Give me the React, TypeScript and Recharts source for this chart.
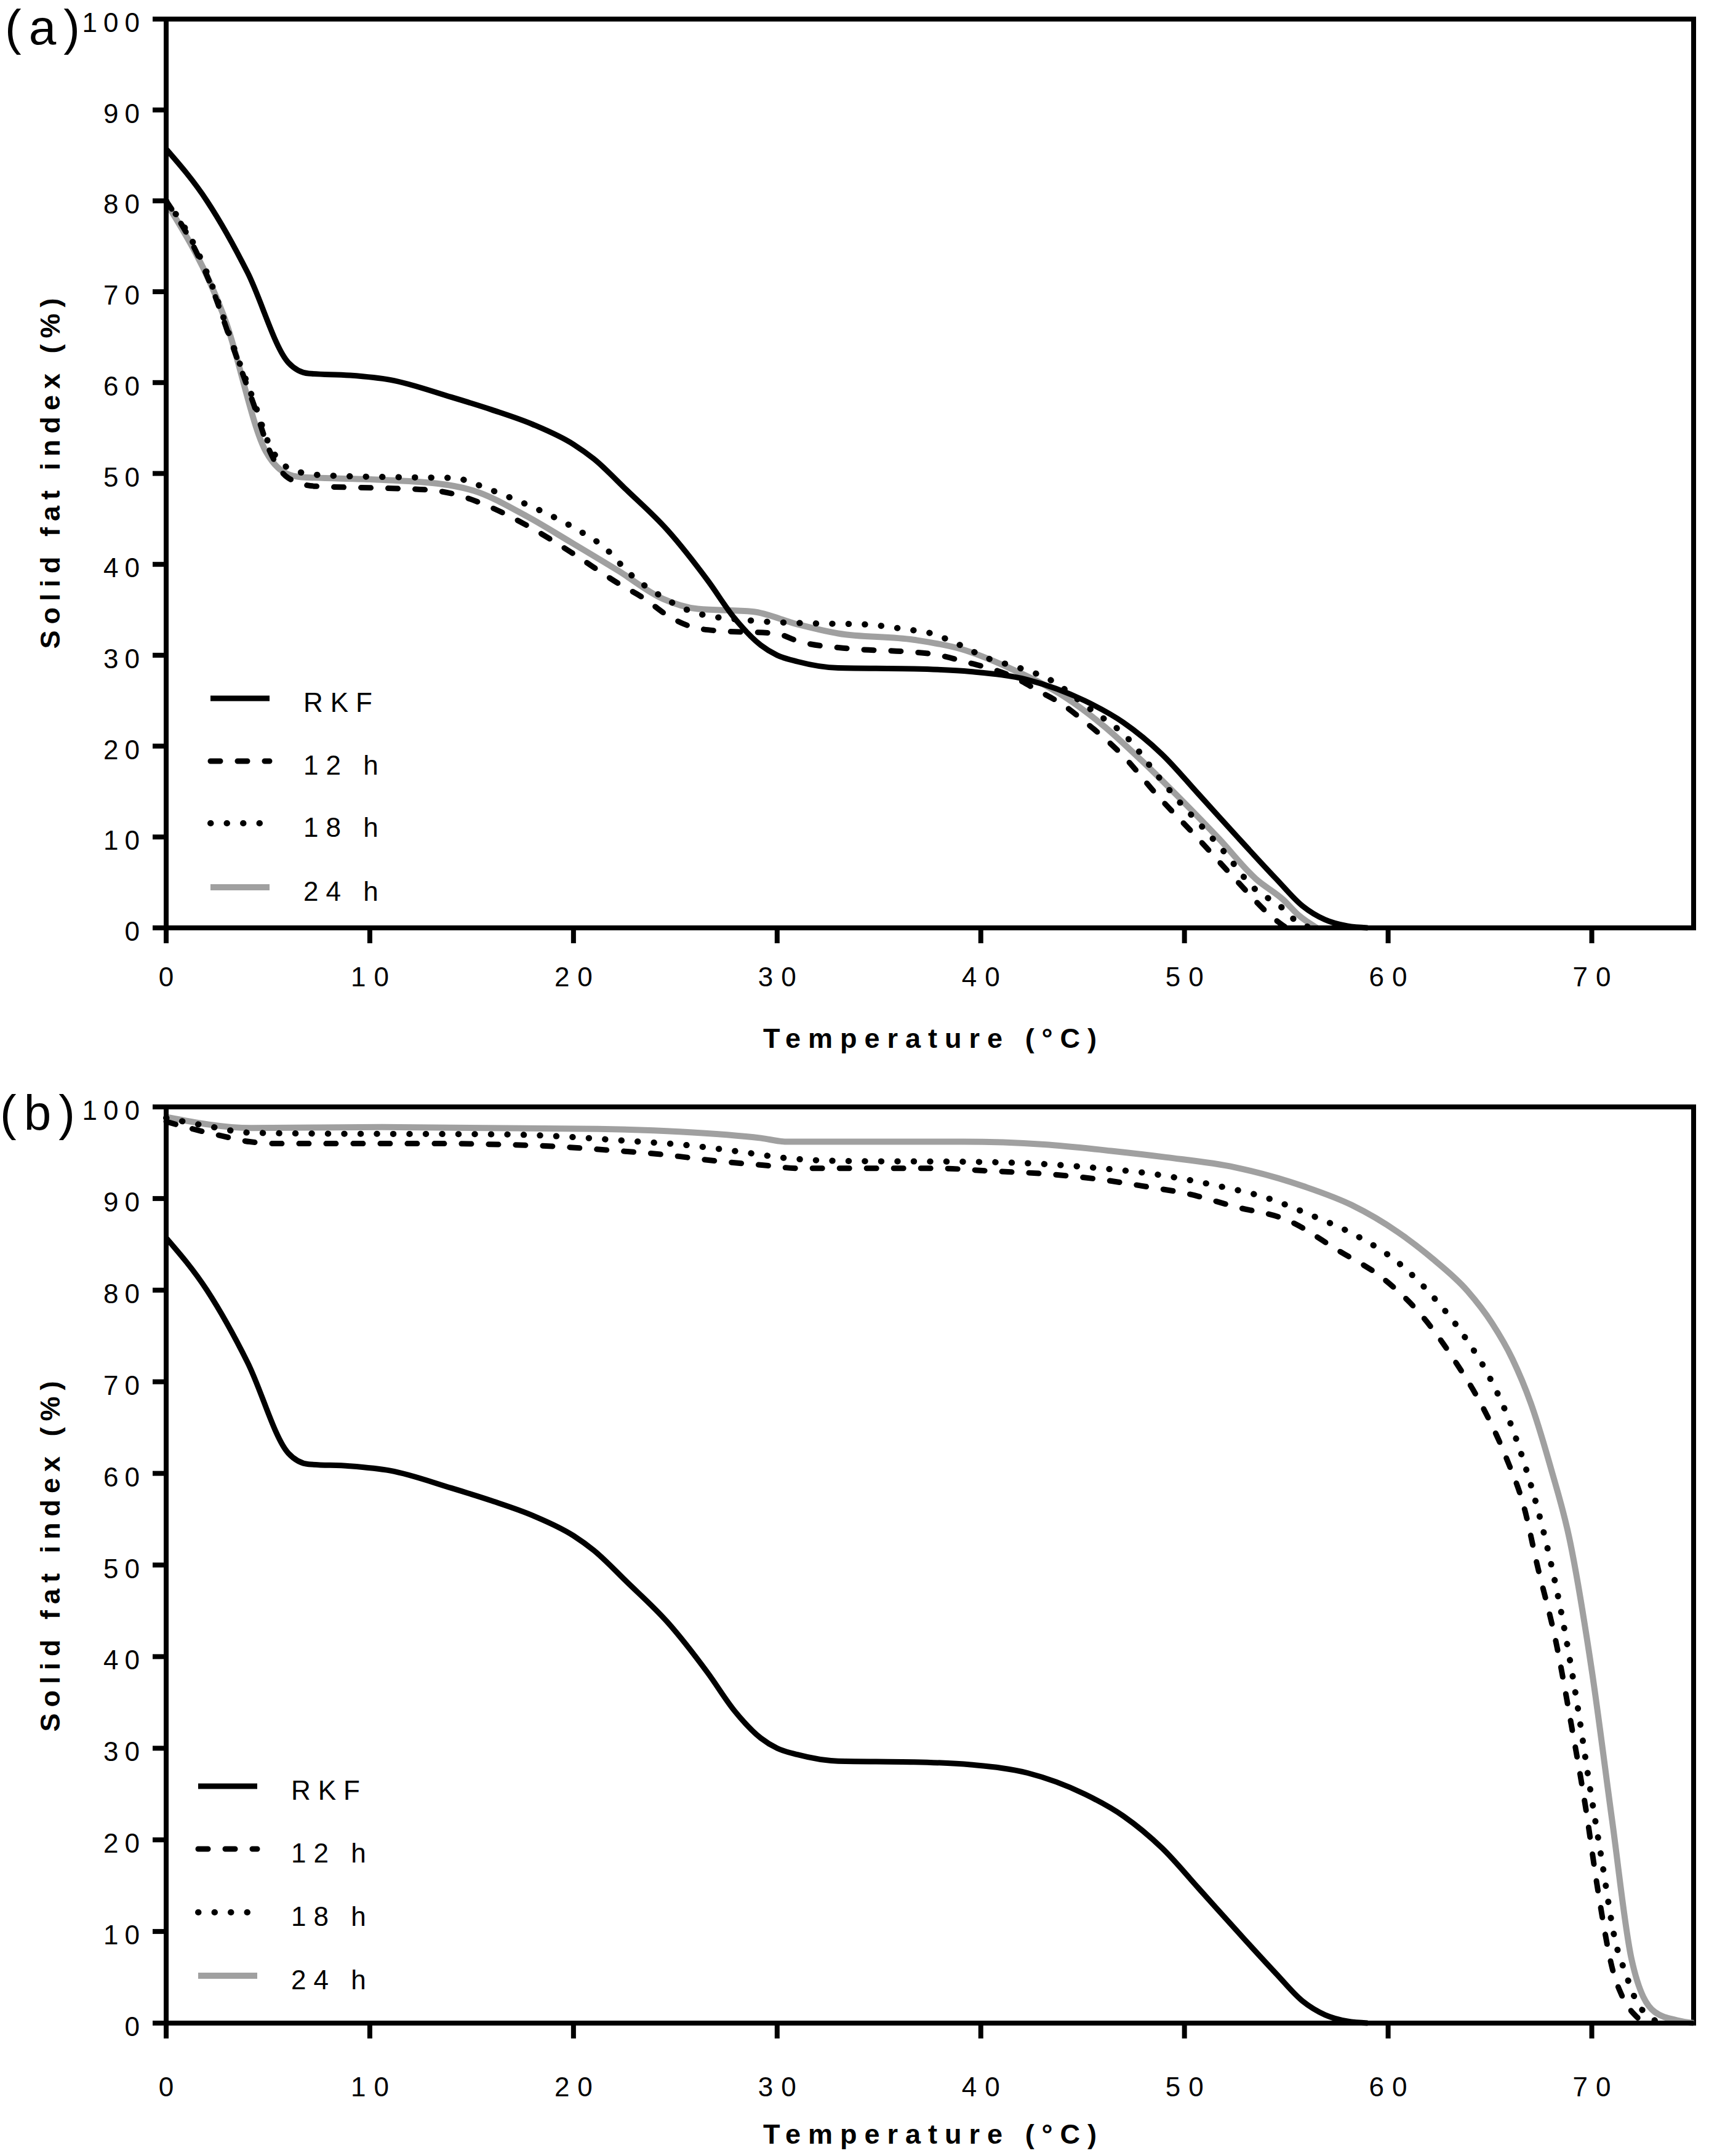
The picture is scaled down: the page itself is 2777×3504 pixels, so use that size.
import { LineChart, Line, XAxis, YAxis, ReferenceLine } from "recharts";

type Point = [number, number];

const X_TICKS = [0, 10, 20, 30, 40, 50, 60, 70];
const Y_TICKS = [0, 10, 20, 30, 40, 50, 60, 70, 80, 90, 100];
const SERIES = ["RKF", "12 h", "18 h", "24 h"];

// temperature (°C), solid fat index (%)
const RKF: Point[] = [
  [0, 85.7], [2, 80], [4, 72.1], [6, 62.2], [7, 61], [9, 60.8], [11, 60.3],
  [14, 58.4], [16, 57], [18, 55.4], [20, 53.2], [21, 51.6], [22.6, 48.2],
  [24.6, 43.8], [26.6, 38.2], [27.9, 34.1], [29.2, 31.1], [30, 30], [31, 29.3],
  [33, 28.6], [36.7, 28.5], [39.5, 28.2], [42.3, 27.3], [45.1, 25], [47, 22.6],
  [48.9, 19.1], [50.7, 14.7], [52.6, 10], [54.5, 5.4], [55.8, 2.4], [56.9, 0.9],
  [58, 0.2], [59, 0],
];

const A_12H: Point[] = [
  [0, 80], [1.3, 75.2], [2.2, 70.7], [3.3, 63.8], [4.3, 57.6], [5.1, 52.4],
  [6, 49.5], [7.3, 48.6], [10.4, 48.4], [12.8, 48.2], [14.2, 47.7], [15.5, 46.7],
  [17.7, 44.3], [19.9, 41.3], [22.2, 37.9], [23.5, 36.2], [24.6, 34.4],
  [25.7, 33.2], [27, 32.7], [29.9, 32.4], [31.1, 31.5], [33.7, 30.7],
  [36.3, 30.4], [37.7, 30.1], [39.2, 29.3], [41.6, 27.6], [42.9, 26], [44, 24.6],
  [45.1, 22.7], [47, 18.9], [48.7, 14.5], [50.6, 10], [52.6, 5.1], [54.3, 1.2],
  [55, 0],
];

const A_18H: Point[] = [
  [0, 80], [1.3, 75.5], [2.2, 71], [3.3, 64], [4.3, 58], [5.1, 53], [6.3, 50.3],
  [7.75, 49.8], [11.1, 49.6], [14.2, 49.5], [15.1, 48.9], [16.5, 47.7],
  [18.1, 46.2], [20.2, 43.8], [21.5, 41.9], [22.8, 38.9], [24.3, 36.5],
  [26.1, 34.6], [28.8, 33.8], [31.8, 33.5], [34.2, 33.4], [36.5, 32.8],
  [37.4, 32.5], [38.9, 31.2], [40.3, 29.7], [41.9, 28.6], [43.4, 27.3],
  [45.3, 24.2], [47.2, 20.9], [48.7, 16.7], [49.7, 14], [50.8, 11.3],
  [51.9, 8.5], [53.4, 4.4], [54.8, 2.2], [55.4, 0.9], [56.2, 0],
];

const A_24H: Point[] = [
  [0, 79.8], [2.9, 66.9], [4.9, 52.4], [5.9, 50], [6.65, 49.6], [10, 49.35],
  [13.3, 48.9], [15.1, 48.1], [17.7, 45.3], [19.9, 42.4], [22.2, 39.3],
  [24.4, 36.2], [26.1, 35.1], [28.8, 34.8], [31, 33.4], [33, 32.4], [36.7, 31.7],
  [39, 30.7], [41.4, 28.6], [44.2, 25.3], [46.1, 22.1], [47.9, 18.4],
  [49.8, 14.2], [51.7, 9.8], [53.5, 5.4], [54.85, 3.1], [55.6, 1.4], [56.5, 0],
];

const B_12H: Point[] = [
  [0, 98.4], [1.3, 97.6], [2.8, 96.8], [4.1, 96.2], [5.5, 96], [13.3, 96],
  [16.3, 95.9], [19, 95.7], [21.6, 95.3], [24.4, 94.8], [27, 94.1], [29.5, 93.6],
  [31, 93.3], [37.8, 93.3], [40.5, 93], [43.1, 92.7], [45.8, 92.1], [48.4, 91.2],
  [50, 90.6], [52.5, 89.1], [55.1, 87.6], [57.5, 84.4], [59.8, 81.2],
  [61.7, 77.1], [63.3, 72.2], [64.7, 67], [65.8, 61.7], [66.7, 56.1],
  [67.3, 50.2], [68.26, 41.4], [69, 32.5], [69.7, 23.5], [70.3, 14.5],
  [71.05, 5.6], [71.5, 2.9], [72.2, 0.7], [72.6, 0],
];

const B_18H: Point[] = [
  [0, 98.8], [2.3, 97.8], [4, 97.2], [6.6, 97.1], [16.6, 97], [19.2, 96.8],
  [22.6, 96.3], [25.7, 95.8], [28.2, 95.1], [30.5, 94.4], [33.2, 94.1],
  [39.8, 94], [42.8, 93.8], [45.9, 93.3], [48.4, 92.7], [51.6, 91.4], [54, 90.1],
  [56.2, 88.2], [58.4, 86], [60.5, 83], [62.2, 79.3], [63.7, 75.1], [65, 70.4],
  [66, 65.5], [66.8, 60.3], [67.84, 51.7], [68.52, 44.6], [69.23, 35.6],
  [69.84, 26.7], [70.49, 17.8], [71.16, 8.9], [71.65, 5.5], [72.26, 2.1],
  [72.8, 0.8], [73.3, 0],
];

const B_24H: Point[] = [
  [0, 98.9], [4.2, 97.7], [10.6, 97.8], [21.2, 97.6], [25.2, 97.3], [29.2, 96.6],
  [30.5, 96.2], [39.1, 96.2], [43.1, 95.9], [46.4, 95.2], [49.1, 94.5],
  [52.5, 93.4], [55.9, 91.3], [58.2, 89.3], [60.5, 86.3], [62.2, 83.4],
  [63.9, 79.9], [65.1, 76.4], [66.1, 72.5], [67, 67.7], [68, 60.5], [68.9, 52.9],
  [70, 38.5], [71, 22.1], [71.95, 7], [73.1, 1.2], [74.2, 0.3], [75, 0],
];

const FONT = '"Liberation Sans", Arial, Helvetica, sans-serif';

const LINE_STYLE: Record<string, any> = {
  RKF: { stroke: "#000", strokeWidth: 9 },
  "12 h": { stroke: "#000", strokeWidth: 9, strokeDasharray: "16 28", strokeLinecap: "round" },
  "18 h": { stroke: "#000", strokeWidth: 10, strokeDasharray: "0.5 26", strokeLinecap: "round" },
  "24 h": { stroke: "#a0a0a0", strokeWidth: 10 },
};

const toRows = (pts: Point[]) => pts.map(([t, v]) => ({ t, v }));

function YTick({ x, y, payload }: any) {
  return (
    <text x={x} y={y + 21} textAnchor="end" fontSize={44} letterSpacing={10} fontFamily={FONT} fill="#000">
      {payload.value}
    </text>
  );
}

function makeXTick(drop: number) {
  return function XTick({ x, y, payload }: any) {
    return (
      <text x={x} y={y + drop} dx={6.5} textAnchor="middle" fontSize={44} letterSpacing={13} fontFamily={FONT} fill="#000">
        {payload.value}
      </text>
    );
  };
}

type PanelProps = {
  top: number;
  height: number;
  xAxisHeight: number;
  tickDrop: number;
  series: Record<string, Point[]>;
};

function Panel({ top, height, xAxisHeight, tickDrop, series }: PanelProps) {
  const frame = { stroke: "#000", strokeWidth: 8 };
  return (
    <div style={{ position: "absolute", left: 0, top }}>
      <LineChart width={2777} height={height} margin={{ top: 31, right: 25, bottom: 0, left: 0 }}>
        <XAxis
          type="number"
          dataKey="t"
          domain={[0, 75]}
          ticks={X_TICKS}
          interval={0}
          height={xAxisHeight}
          axisLine={frame}
          tickLine={frame}
          tickSize={25}
          tickMargin={0}
          tick={makeXTick(tickDrop)}
        />
        <YAxis
          type="number"
          domain={[0, 100]}
          ticks={Y_TICKS}
          interval={0}
          width={270}
          axisLine={frame}
          tickLine={frame}
          tickSize={22}
          tickMargin={11}
          tick={YTick}
        />
        <ReferenceLine y={100} stroke="#000" strokeWidth={8} strokeLinecap="square" />
        <ReferenceLine x={75} stroke="#000" strokeWidth={8} strokeLinecap="square" />
        {[...SERIES].reverse().map((name) => (
          <Line
            key={name}
            name={name}
            data={toRows(series[name])}
            dataKey="v"
            type="monotone"
            dot={false}
            activeDot={false}
            isAnimationActive={false}
            {...LINE_STYLE[name]}
          />
        ))}
      </LineChart>
    </div>
  );
}

function Legend({ rows, lineX, textX }: { rows: number[]; lineX: number; textX: number }) {
  return (
    <g>
      {SERIES.map((name, i) => (
        <g key={name}>
          <line x1={lineX} x2={lineX + 96} y1={rows[i]} y2={rows[i]} {...LINE_STYLE[name]} />
          <text x={textX} y={rows[i] + 22} fontSize={44} letterSpacing={12} fontFamily={FONT} fill="#000">
            {name}
          </text>
        </g>
      ))}
    </g>
  );
}

function Titles({ plotTop, plotBottom, titleBaseline, yShift }: any) {
  const cy = (plotTop + plotBottom) / 2 + yShift;
  return (
    <g fontFamily={FONT} fontWeight="bold" fontSize={45} fill="#000">
      <text x={1511} y={titleBaseline} dx={6} textAnchor="middle" letterSpacing={12}>
        Temperature (°C)
      </text>
      <text x={97} y={cy} dx={5} textAnchor="middle" letterSpacing={10} transform={`rotate(-90, 97, ${cy})`}>
        Solid fat index (%)
      </text>
    </g>
  );
}

export default function App() {
  return (
    <div style={{ position: "absolute", left: 0, top: 0, width: 2777, height: 3504, background: "#fff" }}>
      <Panel
        top={0}
        height={1760}
        xAxisHeight={252}
        tickDrop={70}
        series={{ RKF, "12 h": A_12H, "18 h": A_18H, "24 h": A_24H }}
      />
      <Panel
        top={1768}
        height={1736}
        xAxisHeight={216}
        tickDrop={94}
        series={{ RKF, "12 h": B_12H, "18 h": B_18H, "24 h": B_24H }}
      />
      <svg width={2777} height={3504} style={{ position: "absolute", left: 0, top: 0, pointerEvents: "none" }}>
        <text x={8} y={72} fontSize={80} letterSpacing={12} fontFamily={FONT} fill="#000">(a)</text>
        <text x={0} y={1836} fontSize={80} letterSpacing={12} fontFamily={FONT} fill="#000">(b)</text>
        <Titles plotTop={31} plotBottom={1508} titleBaseline={1703} yShift={0} />
        <Titles plotTop={1799} plotBottom={3288} titleBaseline={3484} yShift={-14} />
        <Legend rows={[1135, 1237, 1338, 1442]} lineX={342} textX={493} />
        <Legend rows={[2903, 3005, 3108, 3211]} lineX={322} textX={473} />
      </svg>
    </div>
  );
}
